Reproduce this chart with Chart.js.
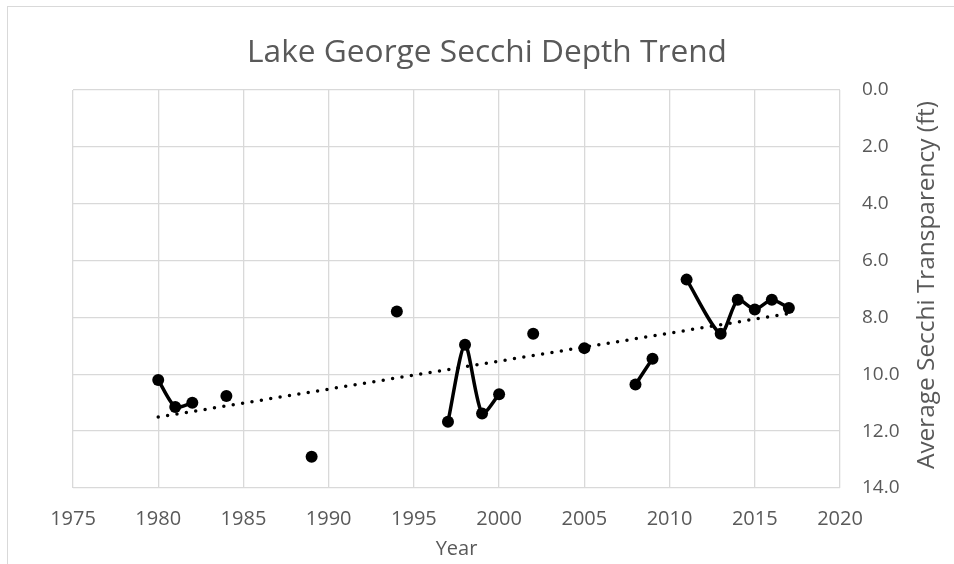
<!DOCTYPE html>
<html>
<head>
<meta charset="utf-8">
<script src="https://cdn.jsdelivr.net/npm/chart.js@4"></script>
<style>
  html, body { margin: 0; padding: 0; background: #fff; }
  #wrap { position: relative; width: 954px; height: 564px; overflow: hidden; }
  #frame { position: absolute; left: 7px; top: 6px; width: 1000px; height: 600px; border: 1px solid #d9d9d9; }
  canvas { position: absolute; left: 0; top: 0; }
</style>
</head>
<body>
<div id="wrap">
  <div id="frame"></div>
  <canvas id="grafica" width="954" height="564"></canvas>
</div>
<script>
// years with a null depth mark a break in the line (no survey that year)
const years = [1980, 1981, 1982, 1983, 1984, 1985, 1989, 1990, 1994, 1995,
  1997, 1998, 1999, 2000, 2001, 2002, 2003, 2005, 2006, 2008, 2009, 2010,
  2011, 2013, 2014, 2015, 2016, 2017];
const depth = [10.2, 11.15, 11.0, null, 10.76, null, 12.9, null, 7.79, null,
  11.67, 8.96, 11.38, 10.7, null, 8.57, null, 9.08, null, 10.36, 9.45, null,
  6.67, 8.57, 7.38, 7.72, 7.38, 7.67];
const xTicks = [1975, 1980, 1985, 1990, 1995, 2000, 2005, 2010, 2015, 2020];
const yTicks = [0, 2, 4, 6, 8, 10, 12, 14];

const textColor = "#595959";
const gridColor = "#d9d9d9";
const fontFamily = "'Open Sans', 'Noto Sans', sans-serif";

const puntos = years.map(function (y, i) {
  return { x: y, y: depth[i] };
});

// linear trendline (least squares) like the spreadsheet's
const validos = puntos.filter(function (p) { return p.y !== null; });
const n = validos.length;
const mx = validos.reduce(function (s, p) { return s + p.x; }, 0) / n;
const my = validos.reduce(function (s, p) { return s + p.y; }, 0) / n;
let sxy = 0, sxx = 0;
validos.forEach(function (p) {
  sxy += (p.x - mx) * (p.y - my);
  sxx += (p.x - mx) * (p.x - mx);
});
const pendiente = sxy / sxx;
const x0 = validos[0].x;
const x1 = validos[n - 1].x;
const tendencia = [
  { x: x0, y: my + pendiente * (x0 - mx) },
  { x: x1, y: my + pendiente * (x1 - mx) },
];

// draws text centred at (x, y), squeezed or stretched to a given length
function textoAjustado(ctx, texto, x, y, largo, angulo) {
  const ancho = ctx.measureText(texto).width;
  ctx.save();
  ctx.translate(x, y);
  ctx.rotate(angulo);
  ctx.scale(largo / ancho, 1);
  ctx.fillText(texto, 0, 0);
  ctx.restore();
}

const textosExtra = {
  id: "textosExtra",
  afterDraw: function (chart) {
    const ctx = chart.ctx;
    ctx.save();
    ctx.fillStyle = textColor;
    ctx.textAlign = "center";
    ctx.textBaseline = "alphabetic";
    ctx.font = "31px " + fontFamily;
    textoAjustado(ctx, "Lake George Secchi Depth Trend", 487, 62, 480, 0);
    ctx.font = "23px " + fontFamily;
    ctx.textBaseline = "middle";
    textoAjustado(ctx, "Average Secchi Transparency (ft)", 927, 285, 368, -Math.PI / 2);
    ctx.restore();
  },
};

new Chart(document.getElementById("grafica"), {
  type: "scatter",
  data: {
    datasets: [
      {
        label: "Secchi",
        data: puntos,
        showLine: true,
        spanGaps: false,
        tension: 0.25,
        borderColor: "#000",
        backgroundColor: "#000",
        borderWidth: 3.5,
        pointRadius: 6,
        pointHoverRadius: 6,
        pointBackgroundColor: "#000",
        pointBorderWidth: 0,
        order: 1,
      },
      {
        label: "Linear",
        data: tendencia,
        showLine: true,
        borderColor: "#000",
        borderWidth: 3.5,
        borderDash: [0, 9.5],
        borderCapStyle: "round",
        pointRadius: 0,
        order: 2,
      },
    ],
  },
  options: {
    responsive: false,
    animation: false,
    layout: { padding: { left: 73, top: 90, right: 0, bottom: 0 } },
    plugins: {
      legend: { display: false },
      title: { display: false },
      tooltip: { enabled: false },
    },
    scales: {
      x: {
        type: "linear",
        min: xTicks[0],
        max: xTicks[xTicks.length - 1],
        afterBuildTicks: function (axis) {
          axis.ticks = xTicks.map(function (v) { return { value: v }; });
        },
        afterFit: function (axis) { axis.height = 76; },
        ticks: {
          color: textColor,
          font: { size: 20, family: fontFamily },
          padding: 19,
          maxRotation: 0,
          callback: function (v) { return String(v); },
        },
        grid: { color: gridColor, lineWidth: 1.3, drawTicks: false },
        border: { display: false },
        title: {
          display: true,
          text: "Year",
          color: textColor,
          font: { size: 20, family: fontFamily },
          padding: { top: 0, bottom: 3 },
        },
      },
      y: {
        type: "linear",
        position: "right",
        reverse: true,
        min: yTicks[0],
        max: yTicks[yTicks.length - 1],
        afterBuildTicks: function (axis) {
          axis.ticks = yTicks.map(function (v) { return { value: v }; });
        },
        afterFit: function (axis) { axis.width = 114; },
        ticks: {
          color: textColor,
          font: { size: 19, family: fontFamily },
          padding: 22,
          crossAlign: "near",
          callback: function (v) { return Number(v).toFixed(1); },
        },
        grid: { color: gridColor, lineWidth: 1.3, drawTicks: false },
        border: { display: false },
      },
    },
  },
  plugins: [textosExtra],
});
</script>
</body>
</html>
